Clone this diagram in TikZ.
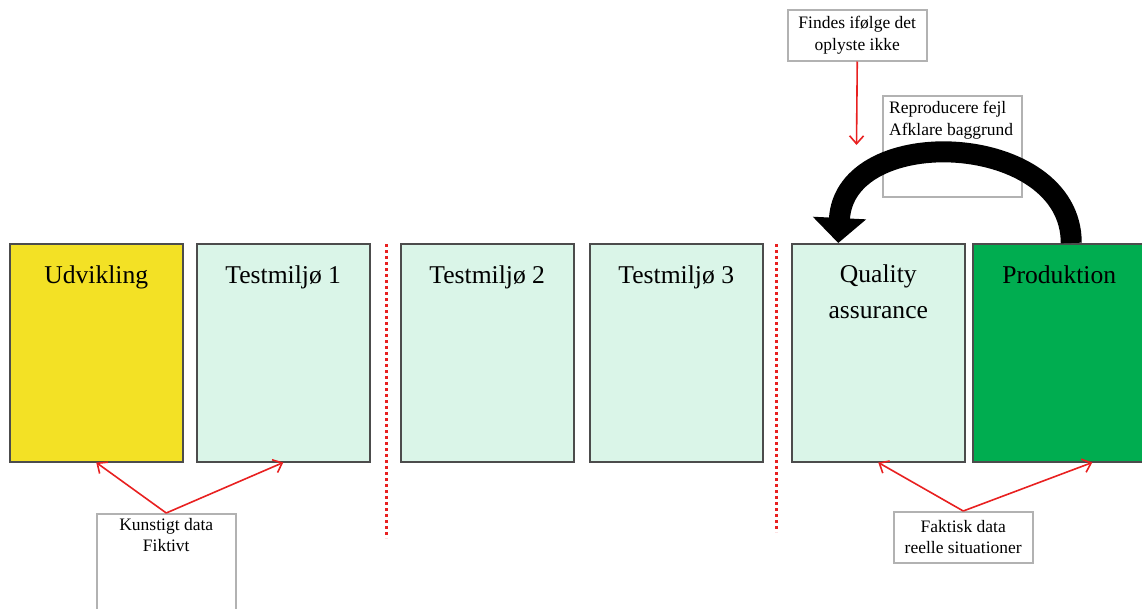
\documentclass[tikz,border=0pt]{standalone}
\usepackage{fontspec}
\setmainfont{Liberation Serif}
\usetikzlibrary{arrows.meta}
\definecolor{devyellow}{RGB}{243,225,37}
\definecolor{testmint}{RGB}{218,245,232}
\definecolor{prodgreen}{RGB}{0,173,80}
\definecolor{notered}{RGB}{232,32,32}

\begin{document}
\begin{tikzpicture}[x=1pt,y=-1pt,
  envbox/.style={draw=black!70,line width=1.5pt,minimum width=173pt,minimum height=218pt,anchor=north west,inner sep=0pt},
  envtext/.style={font=\fontsize{25.6}{36}\selectfont,align=center,inner sep=0pt},
  notebox/.style={draw=black!30,line width=1.5pt,fill=white,minimum width=139pt,anchor=north west,inner sep=0pt},
  notetext/.style={font=\fontsize{17.5}{21.5}\selectfont,align=center,inner sep=0pt},
  notearrow/.style={->,draw=notered,line width=1.6pt},
  >={Straight Barb[length=8pt,width=14pt]},
  separator/.style={draw=notered,line width=3pt,dash pattern=on 3pt off 3pt}]
\useasboundingbox (0,0) rectangle (1142,608);
% environments
\node[envbox,fill=devyellow] (udv) at (9,243) {};
\node[envbox,fill=testmint] (test1) at (196,243) {};
\node[envbox,fill=testmint] (test2) at (400,243) {};
\node[envbox,fill=testmint] (test3) at (589,243) {};
\node[envbox,fill=testmint] (qa) at (791,243) {};
\node[envbox,fill=prodgreen] (prod) at (972,243) {};
% environment names
\node[envtext,anchor=base] (udvtxt) at ([yshift=-40pt]udv.north) {Udvikling};
\node[envtext,anchor=base] (test1txt) at ([yshift=-40pt]test1.north) {Testmiljø 1};
\node[envtext,anchor=base] (test2txt) at ([yshift=-40pt]test2.north) {Testmiljø 2};
\node[envtext,anchor=base] (test3txt) at ([yshift=-40pt]test3.north) {Testmiljø 3};
\node[envtext,anchor=north] (qatxt) at ([yshift=-22pt]qa.north) {Quality\\assurance};
\node[envtext,anchor=base] (prodtxt) at ([yshift=-40pt]prod.north) {Produktion};
% separators
\draw[separator] (386,244) -- (386,538);
\draw[separator] (776,244) -- (776,532);
% notes
\node[notebox,minimum height=51pt] (findes) at (787,9) {};
\node[notetext] (findestxt) at (findes.center) {Findes ifølge det\\oplyste ikke};
\coordinate (findestip) at (856.5,145);
\draw[notearrow] (findes.south) -- (findestip);
\node[notebox,minimum height=101pt] (repro) at (882,95) {};
\node[notetext,align=left,anchor=north west] (reprotxt) at ([xshift=7pt,yshift=-6pt]repro.north west) {Reproducere fejl\\Afklare baggrund};
\node[notebox,minimum height=110pt] (kunst) at (96,513) {};
\node[notetext,anchor=north] (kunsttxt) at ([yshift=-5pt]kunst.north) {Kunstigt data\\Fiktivt};
\node[notebox,minimum height=51pt] (faktisk) at (893,511) {};
\node[notetext] (faktisktxt) at (faktisk.center) {Faktisk data\\reelle situationer};
% data arrows
\draw[notearrow] (kunst.north) -- (udv.south);
\draw[notearrow] (kunst.north) -- (test1.south);
\draw[notearrow] (faktisk.north) -- (qa.south);
\draw[notearrow] (faktisk.north) -- ([xshift=33pt]prod.south);
% back to quality assurance
\draw[line width=21pt,-{Triangle[length=25pt,width=52pt]}] ([xshift=12pt]prod.north) .. controls +(0,-112) and +(6,-122) .. ([xshift=-40pt]qa.north);
\end{tikzpicture}
\end{document}
